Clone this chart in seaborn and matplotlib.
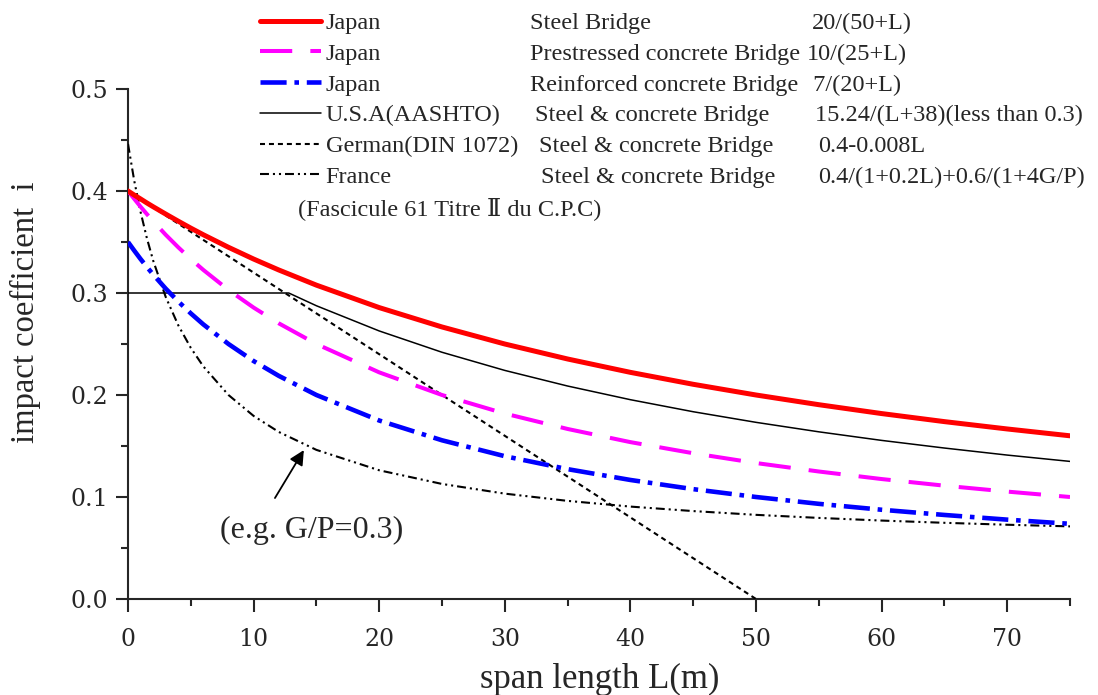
import matplotlib
matplotlib.use("Agg")
import matplotlib.pyplot as plt
import seaborn as sns
import pandas as pd

# ---- data ----
span = [0, 0.5, 1, 1.5, 2, 3, 4, 5, 6, 8, 10, 12, 15, 20, 25, 30, 35, 40,
        45, 50, 55, 60, 65, 70, 75]
jp_steel = [0.4000, 0.3960, 0.3922, 0.3883, 0.3846, 0.3774, 0.3704, 0.3636,
            0.3571, 0.3448, 0.3333, 0.3226, 0.3077, 0.2857, 0.2667, 0.2500,
            0.2353, 0.2222, 0.2105, 0.2000, 0.1905, 0.1818, 0.1739, 0.1667,
            0.1600]
jp_pc = [0.4000, 0.3922, 0.3846, 0.3774, 0.3704, 0.3571, 0.3448, 0.3333,
         0.3226, 0.3030, 0.2857, 0.2703, 0.2500, 0.2222, 0.2000, 0.1818,
         0.1667, 0.1538, 0.1429, 0.1333, 0.1250, 0.1176, 0.1111, 0.1053,
         0.1000]
jp_rc = [0.3500, 0.3415, 0.3333, 0.3256, 0.3182, 0.3043, 0.2917, 0.2800,
         0.2692, 0.2500, 0.2333, 0.2188, 0.2000, 0.1750, 0.1556, 0.1400,
         0.1273, 0.1167, 0.1077, 0.1000, 0.0933, 0.0875, 0.0824, 0.0778,
         0.0737]
france = [0.4462, 0.4098, 0.3795, 0.3539, 0.3319, 0.2962, 0.2684, 0.2462,
          0.2280, 0.2000, 0.1795, 0.1638, 0.1462, 0.1262, 0.1128, 0.1033,
          0.0962, 0.0906, 0.0862, 0.0825, 0.0795, 0.0769, 0.0747, 0.0728,
          0.0712]
span_us = [0, 12.8, 15, 20, 25, 30, 35, 40, 45, 50, 55, 60, 65, 70, 75]
usa = [0.3, 0.3, 0.2875, 0.2628, 0.2419, 0.2241, 0.2088, 0.1954, 0.1836,
       0.1732, 0.1639, 0.1555, 0.1480, 0.1411, 0.1349]
span_de = [0, 50]
german = [0.4, 0.0]

names = ["Japan", "Japan", "Japan", "U.S.A(AASHTO)", "German(DIN 1072)", "France"]
bridges = ["Steel Bridge", "Prestressed concrete Bridge", "Reinforced concrete Bridge",
           "Steel & concrete Bridge", "Steel & concrete Bridge", "Steel & concrete Bridge"]
formulas = ["20/(50+L)", "10/(25+L)", " 7/(20+L)", "15.24/(L+38)(less than 0.3)",
            "0.4-0.008L", "0.4/(1+0.2L)+0.6/(1+4G/P)"]

sns.set_style("ticks")
plt.rcParams["font.family"] = ["Liberation Serif", "DejaVu Serif", "DejaVu Sans"]
plt.rcParams["axes.linewidth"] = 1.5

fig = plt.figure(figsize=(10.98, 6.95), dpi=100)
ax = fig.add_axes([128 / 1098, 1 - 599 / 695, 942 / 1098, 510 / 695])

series = [
    (span, jp_steel, dict(color="#ff0000", lw=3.6, linestyle="-", zorder=6)),
    (span, jp_pc, dict(color="#ff00ff", lw=2.9, linestyle=(0, (8, 4.5)), zorder=5)),
    (span, jp_rc, dict(color="#0000ff", lw=3.3, linestyle=(0, (5.7, 1.7, 1, 1.7)), zorder=5)),
    (span_us, usa, dict(color="black", lw=1.1, linestyle="-", zorder=3)),
    (span_de, german, dict(color="black", lw=1.5, linestyle=(0, (2.4, 1.9)), zorder=4)),
    (span, france, dict(color="black", lw=1.5,
                        linestyle=(0, (4.3, 1.9, 1, 1.9, 1, 1.9)), zorder=4)),
]
for (xs, ys, kw), name in zip(series, names):
    df = pd.DataFrame({"L": xs, "i": ys})
    sns.lineplot(data=df, x="L", y="i", ax=ax, label=name, estimator=None,
                 errorbar=None, **kw)

ax.set_xlim(0, 75)
ax.set_ylim(0, 0.5)
ax.set_xticks(range(0, 71, 10))
ax.set_xticks(range(5, 76, 10), minor=True)
ax.set_yticks([0, 0.1, 0.2, 0.3, 0.4, 0.5])
ax.set_yticklabels(["0.0", "0.1", "0.2", "0.3", "0.4", "0.5"])
ax.set_yticks([0.05, 0.15, 0.25, 0.35, 0.45], minor=True)
ax.tick_params(which="major", length=9, width=1.5, direction="out")
ax.tick_params(which="minor", length=5, width=1.5, direction="out")
ax.tick_params(axis="x", pad=12)
ax.tick_params(axis="y", pad=5)
for lab in ax.get_xticklabels() + ax.get_yticklabels():
    lab.set_fontfamily("DejaVu Serif")
    lab.set_fontsize(17)
sns.despine(ax=ax)
ax.set_xlabel("")
ax.set_ylabel("")

fig.text(600 / 1098, 1 - 679 / 695, "span length L(m)", fontsize=25,
         ha="center", va="center")
fig.text(25 / 1098, 1 - 312 / 695, "impact coefficient  i", fontsize=23.5,
         ha="center", va="center", rotation=90)

ax.annotate("", xy=(14, 0.146), xytext=(11.7, 0.099),
            arrowprops=dict(arrowstyle="-|>", color="black", lw=1.3,
                            mutation_scale=22, shrinkA=0, shrinkB=0))
ax.text(14.6, 0.0676, "(e.g. G/P=0.3)", fontsize=23, ha="center", va="center")

handles, labels = ax.get_legend_handles_labels()
if ax.get_legend() is not None:
    ax.get_legend().remove()
leg = fig.legend(handles, labels, loc="upper left",
                 bbox_to_anchor=(260 / 1098, 1 - 12 / 695), frameon=False,
                 fontsize=17.5, handlelength=2.5, handletextpad=0.2,
                 borderpad=0, borderaxespad=0, labelspacing=0.36)

fig.canvas.draw()
col2_x = [530, 530, 530, 535, 539, 541]
col3_x = [812, 807, 807, 815, 818, 818]
H = fig.bbox.height
for t, b, f, x2, x3 in zip(leg.get_texts(), bridges, formulas, col2_x, col3_x):
    bb = t.get_window_extent()
    yc = (bb.y0 + bb.y1) / 2 / H
    fig.text(x2 / 1098, yc, b, fontsize=17.5, ha="left", va="center")
    fig.text(x3 / 1098, yc, f, fontsize=17.5, ha="left", va="center")
fig.text(298 / 1098, 1 - 209 / 695, "(Fascicule 61 Titre \u2161 du C.P.C)",
         fontsize=17.5, ha="left", va="center")

fig.savefig("out.png", dpi=100)
